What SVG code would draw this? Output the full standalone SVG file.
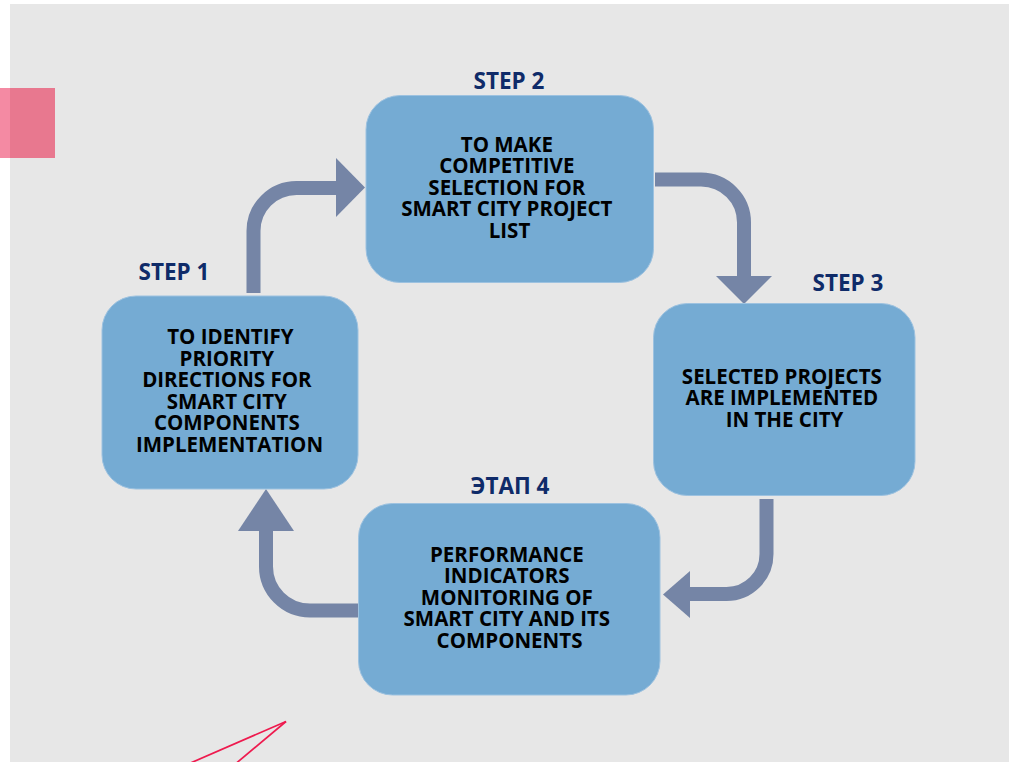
<svg xmlns="http://www.w3.org/2000/svg" width="1009" height="762" viewBox="0 0 1009 762">
  <style>
    .box { fill: #75abd3; stroke: #9dc2e0; stroke-width: 1; }
    .conn { fill: none; stroke: #7585a6; stroke-width: 14; }
    .head { fill: #7585a6; }
    .label { font-family: "Open Sans", "Liberation Sans", sans-serif; font-weight: 700; font-size: 22.5px; fill: #0f2b69; text-anchor: middle; }
    .txt { font-family: "Open Sans", "Liberation Sans", sans-serif; font-weight: 700; font-size: 20.5px; fill: #000; text-anchor: middle; }
  </style>
  <rect x="0" y="0" width="1009" height="762" fill="#ffffff"/>
  <rect x="10" y="4" width="999" height="758" fill="#e7e7e7"/>
  <rect x="0" y="88" width="10" height="70" fill="#f48aa3"/>
  <rect x="10" y="88" width="45" height="70" fill="#e8788f"/>
  <g id="red-lines" fill="none" stroke="#ee1a4e" stroke-width="1.7">
    <line x1="286" y1="721.5" x2="190.5" y2="763"/>
    <line x1="286" y1="721.5" x2="236.5" y2="763"/>
  </g>

  <g id="connectors">
    <path class="conn" d="M253.5,293 V231 A43,43 0 0 1 296.5,188 H337"/>
    <polygon class="head" points="336,158 365,187.5 336,217"/>
    <path class="conn" d="M655,179.5 H701 A43,43 0 0 1 744,222.5 V277"/>
    <polygon class="head" points="716,276 772,276 744,304"/>
    <path class="conn" d="M766.5,499 V554 A40,40 0 0 1 726.5,594 H689"/>
    <polygon class="head" points="690,571 690,618 663,594.5"/>
    <path class="conn" d="M359,610.5 H310 A44,44 0 0 1 266,566.5 V530"/>
    <polygon class="head" points="238,531 294,531 266,489"/>
  </g>

  <g id="step1">
    <text class="label" x="174" y="280">STEP 1</text>
    <rect class="box" x="102" y="296" width="256" height="193" rx="34"/>
    <text class="txt">
      <tspan x="233" y="344">TO IDENTIFY</tspan>
      <tspan x="229.5" y="365.5">PRIORITY</tspan>
      <tspan x="229.5" y="387">DIRECTIONS FOR</tspan>
      <tspan x="229.5" y="408.5">SMART CITY</tspan>
      <tspan x="229.5" y="430">COMPONENTS</tspan>
      <tspan x="229.5" y="451.5">IMPLEMENTATION</tspan>
    </text>
  </g>

  <g id="step2">
    <text class="label" x="509" y="89">STEP 2</text>
    <rect class="box" x="366" y="95.5" width="287.5" height="187" rx="34"/>
    <text class="txt">
      <tspan x="509.5" y="151.5">TO MAKE</tspan>
      <tspan x="509.5" y="173">COMPETITIVE</tspan>
      <tspan x="509.5" y="194.5">SELECTION FOR</tspan>
      <tspan x="509.5" y="216">SMART CITY PROJECT</tspan>
      <tspan x="509.5" y="237.5">LIST</tspan>
    </text>
  </g>

  <g id="step3">
    <text class="label" x="848" y="290.5">STEP 3</text>
    <rect class="box" x="653.5" y="303.5" width="261.5" height="192" rx="34"/>
    <text class="txt">
      <tspan x="784.5" y="383.5">SELECTED PROJECTS</tspan>
      <tspan x="784.5" y="405">ARE IMPLEMENTED</tspan>
      <tspan x="784.5" y="426.5">IN THE CITY</tspan>
    </text>
  </g>

  <g id="step4">
    <text class="label" x="510" y="494">ЭТАП 4</text>
    <rect class="box" x="358.5" y="503.5" width="301.5" height="191.5" rx="34"/>
    <text class="txt">
      <tspan x="509.5" y="561.5">PERFORMANCE</tspan>
      <tspan x="509.5" y="583">INDICATORS</tspan>
      <tspan x="509.5" y="604.5">MONITORING OF</tspan>
      <tspan x="509.5" y="626">SMART CITY AND ITS</tspan>
      <tspan x="509.5" y="647.5">COMPONENTS</tspan>
    </text>
  </g>
</svg>
